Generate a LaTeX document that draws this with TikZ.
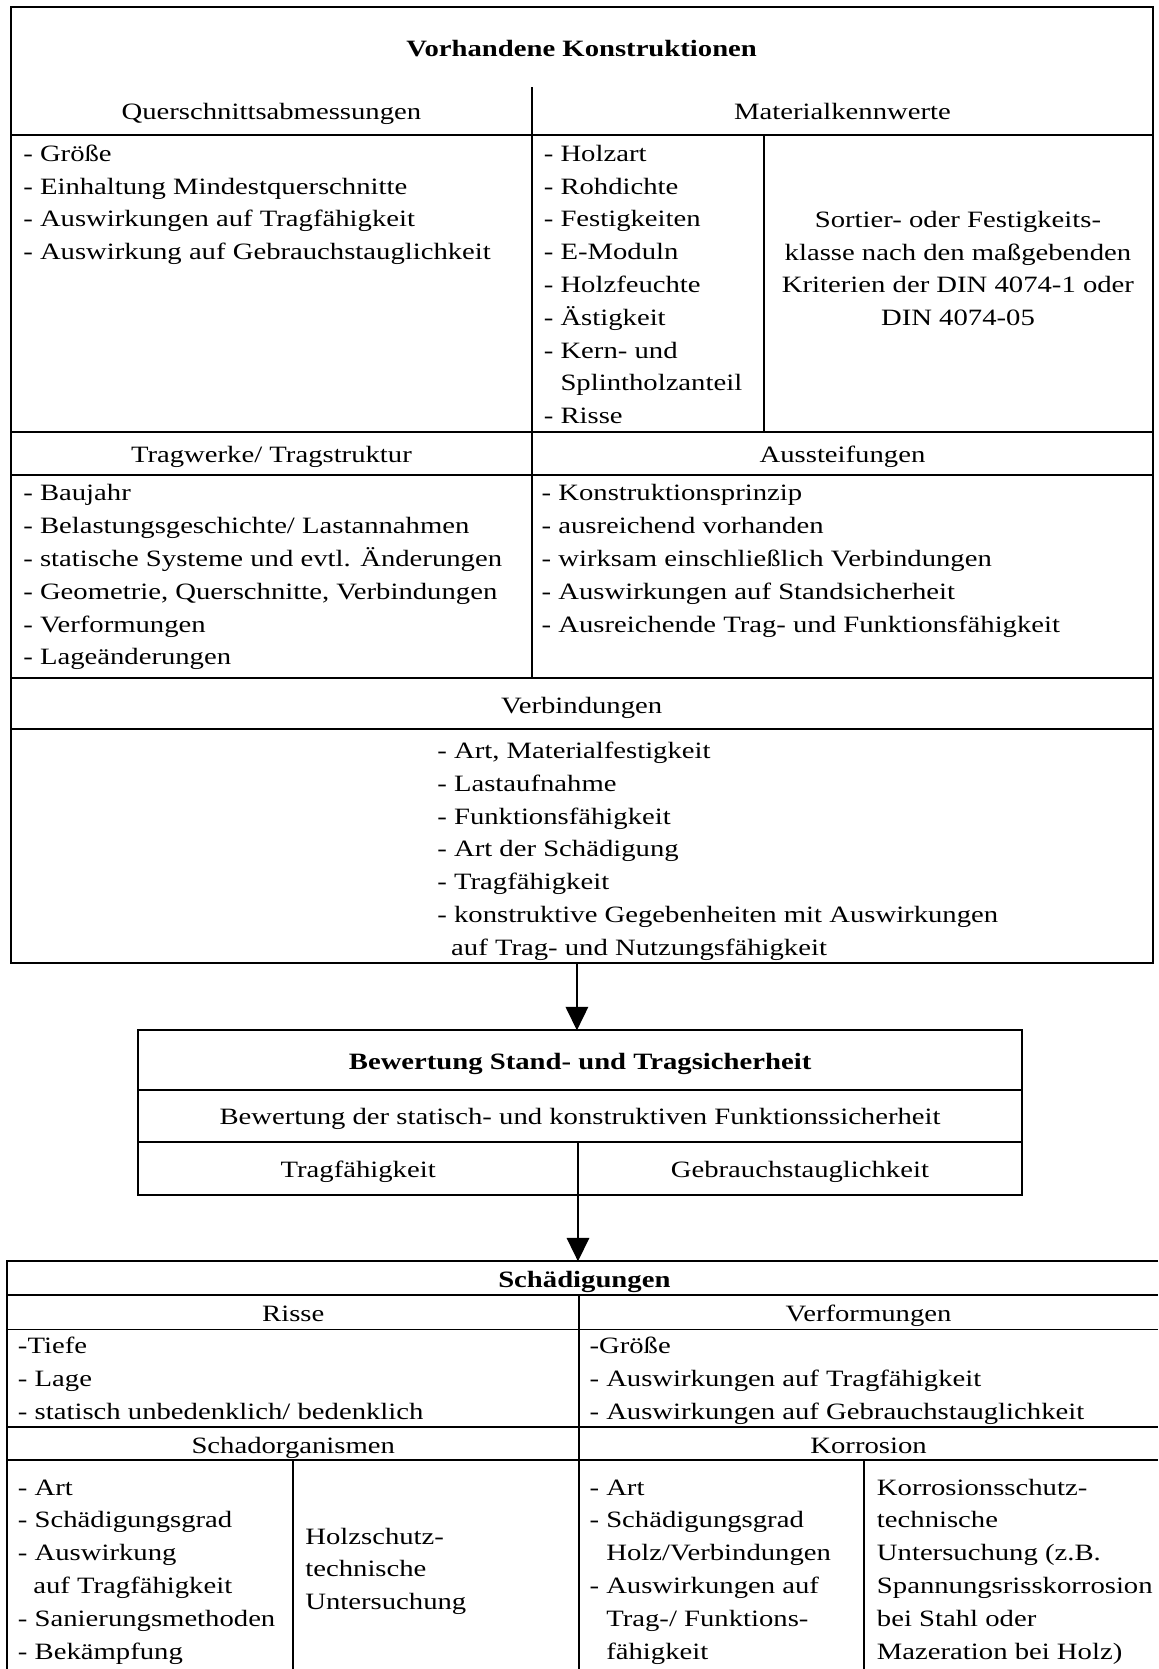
\documentclass[tikz,border=0pt]{standalone}
\usepackage{fontspec}
\setmainfont{Liberation Serif}[FakeStretch=1.225]
\usetikzlibrary{arrows.meta}
\begin{document}
\begin{tikzpicture}[x=0.5pt,y=-0.5pt,line width=0.9pt,
  basetxt/.style={font=\fontsize{11}{15.4}\selectfont, inner sep=0pt},
  hdr/.style={basetxt, text height=7.5pt, text depth=2.5pt, anchor=center, yshift=-1.7pt},
  bhdr/.style={hdr, font=\fontsize{11}{15.4}\selectfont\bfseries},
  lst/.style={basetxt, anchor=north west, align=left, yshift=7.4pt},
  clst/.style={basetxt, anchor=north, align=center, yshift=7.4pt},
  arr/.style={-{Triangle[width=10.5pt,length=11pt]}, line width=0.9pt}]
\useasboundingbox (0,0) rectangle (1088,1568);

% ---------- top block: Vorhandene Konstruktionen ----------
\draw (10,7) rectangle (1083,905);
\draw (500,82) -- (500,637);
\draw (10,127) -- (1083,127);
\draw (718,127) -- (718,406);
\draw (10,406) -- (1083,406);
\draw (10,446) -- (1083,446);
\draw (10,637) -- (1083,637);
\draw (10,685) -- (1083,685);

\node[bhdr] (title) at (546.5,45) {Vorhandene Konstruktionen};
\node[hdr] (hquer) at (255,104) {Querschnittsabmessungen};
\node[hdr] (hmat) at (791.5,104) {Materialkennwerte};

\node[lst] (lquer) at (21,144) {\strut - Größe\\- Einhaltung Mindestquerschnitte\\- Auswirkungen auf Tragfähigkeit\\- Auswirkung auf Gebrauchstauglichkeit};
\node[lst] (lmat) at (510,144) {\strut - Holzart\\- Rohdichte\\- Festigkeiten\\- E-Moduln\\- Holzfeuchte\\- Ästigkeit\\- Kern- und\\\phantom{- }Splintholzanteil\\- Risse};
\node[clst] (lsort) at (900,206) {\strut Sortier- oder Festigkeits-\\klasse nach den maßgebenden\\Kriterien der DIN 4074-1 oder\\DIN 4074-05};

\node[hdr] (htrag) at (255,426) {Tragwerke/ Tragstruktur};
\node[hdr] (haus) at (791.5,426) {Aussteifungen};
\node[lst] (ltrag) at (21,463) {\strut - Baujahr\\- Belastungsgeschichte/ Lastannahmen\\- statische Systeme und evtl. Änderungen\\- Geometrie, Querschnitte, Verbindungen\\- Verformungen\\- Lageänderungen};
\node[lst] (laus) at (508,463) {\strut - Konstruktionsprinzip\\- ausreichend vorhanden\\- wirksam einschließlich Verbindungen\\- Auswirkungen auf Standsicherheit\\- Ausreichende Trag- und Funktionsfähigkeit};

\node[hdr] (hverb) at (546.5,662) {Verbindungen};
\node[lst] (lverb) at (410,705) {\strut - Art, Materialfestigkeit\\- Lastaufnahme\\- Funktionsfähigkeit\\- Art der Schädigung\\- Tragfähigkeit\\- konstruktive Gegebenheiten mit Auswirkungen\\\hspace*{6.5pt}auf Trag- und Nutzungsfähigkeit};

% ---------- middle block ----------
\draw (130,968) rectangle (960,1123);
\draw (130,1024) -- (960,1024);
\draw (130,1073) -- (960,1073);
\draw (543,1073) -- (543,1123);
\node[bhdr] (bew) at (545,996) {Bewertung Stand- und Tragsicherheit};
\node[hdr] (bewsub) at (545,1048.5) {Bewertung der statisch- und konstruktiven Funktionssicherheit};
\node[hdr] (tragf) at (336.5,1098) {Tragfähigkeit};
\node[hdr] (gebr) at (751.5,1098) {Gebrauchstauglichkeit};

% ---------- bottom block: Schädigungen ----------
\draw (1088,1185) -- (7,1185) -- (7,1568);
\draw (7,1217) -- (1088,1217);
\draw (7,1249) -- (1088,1249);
\draw (7,1341) -- (1088,1341);
\draw (7,1372) -- (1088,1372);
\draw (544,1217) -- (544,1568);
\draw (275,1372) -- (275,1568);
\draw (812,1372) -- (812,1568);

\node[bhdr] (schad) at (549,1201) {Schädigungen};
\node[hdr] (hrisse) at (275.5,1233) {Risse};
\node[hdr] (hverf) at (816,1233) {Verformungen};
\node[lst] (lrisse) at (16,1264) {\strut -Tiefe\\- Lage\\- statisch unbedenklich/ bedenklich};
\node[lst] (lverf) at (553,1264) {\strut -Größe\\- Auswirkungen auf Tragfähigkeit\\- Auswirkungen auf Gebrauchstauglichkeit};
\node[hdr] (hschado) at (275.5,1357) {Schadorganismen};
\node[hdr] (hkorr) at (816,1357) {Korrosion};
\node[lst] (lschado) at (16,1397) {\strut - Art\\- Schädigungsgrad\\- Auswirkung\\\hspace*{7.2pt}auf Tragfähigkeit\\- Sanierungsmethoden\\- Bekämpfung};
\node[lst] (lholz) at (286,1443) {\strut Holzschutz-\\technische\\Untersuchung};
\node[lst] (lkorr) at (553,1397) {\strut - Art\\- Schädigungsgrad\\\phantom{- }Holz/Verbindungen\\- Auswirkungen auf\\\phantom{- }Trag-/ Funktions-\\\phantom{- }fähigkeit};
\node[lst] (lkorrt) at (823,1397) {\strut Korrosionsschutz-\\technische\\Untersuchung (z.B.\\Spannungsrisskorrosion\\bei Stahl oder\\Mazeration bei Holz)};

% ---------- arrows ----------
\coordinate (a1s) at (542,905);
\coordinate (a1e) at (542,968);
\draw[arr] (a1s) -- (a1e);
\coordinate (a2s) at (543,1123);
\coordinate (a2e) at (543,1185);
\draw[arr] (a2s) -- (a2e);
\end{tikzpicture}
\end{document}
